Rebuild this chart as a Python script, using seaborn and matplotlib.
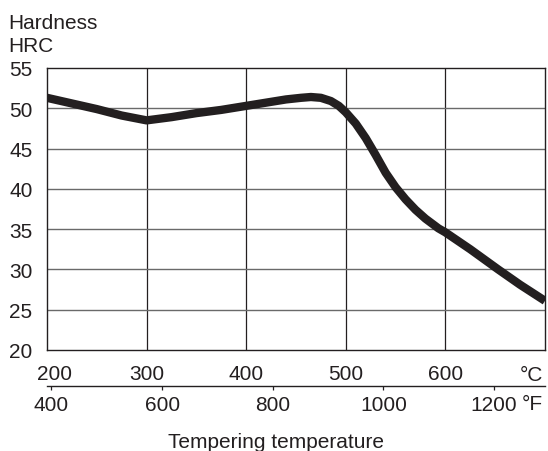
import matplotlib
matplotlib.use("Agg")
import matplotlib.pyplot as plt
import matplotlib.transforms as mtrans
import seaborn as sns
import pandas as pd

# Data
temp_c = [200, 225, 250, 275, 300, 325, 350, 375, 400, 420, 440, 455, 465, 475, 485, 493, 500, 510, 520, 530, 540, 550, 560, 570, 580, 593, 600, 625, 653, 675, 700]
hrc    = [51.3, 50.6, 49.9, 49.1, 48.5, 48.9, 49.4, 49.8, 50.3, 50.7, 51.1, 51.3, 51.4, 51.3, 50.9, 50.3, 49.5, 48.1, 46.3, 44.2, 42.0, 40.2, 38.7, 37.4, 36.3, 35.1, 34.6, 32.5, 30.0, 28.1, 26.1]

c_ticks = [200, 300, 400, 500, 600, 700]
c_labels = ["200", "300", "400", "500", "600", ""]
f_ticks = [400, 600, 800, 1000, 1200]
f_labels = ["400", "600", "800", "1000", "1200"]
y_ticks = [20, 25, 30, 35, 40, 45, 50, 55]

df = pd.DataFrame({"C": temp_c, "HRC": hrc})

sns.set_style("white")
plt.rcParams["font.family"] = ["Liberation Sans", "DejaVu Sans"]
fs = 15
text_col = "#231f20"

W, H = 548, 452
fig = plt.figure(figsize=(W / 100, H / 100), dpi=100)
ax = fig.add_axes([47/W, 1 - 351/H, (545-47)/W, (351-69)/H])

sns.lineplot(data=df, x="C", y="HRC", ax=ax, color="#231f20", linewidth=6,
             solid_capstyle="butt", solid_joinstyle="round", zorder=5)

ax.set_xlim(200, 700)
ax.set_ylim(20, 55)
ax.set_xticks(c_ticks)
ax.set_xticklabels(c_labels)
ax.set_yticks(y_ticks)
ax.set_yticklabels([str(v) for v in y_ticks])
ax.tick_params(axis="both", length=0, labelsize=fs, colors=text_col)
ax.tick_params(axis="x", pad=10)
ax.tick_params(axis="y", pad=10.5)
ax.set_xlabel("")
ax.set_ylabel("")

# nudge the first Celsius label to the right, as in the reference
first = ax.get_xticklabels()[0]
first.set_transform(first.get_transform() + mtrans.ScaledTranslation(8 / 100, 0, fig.dpi_scale_trans))

for v in c_ticks[1:-1]:
    ax.axvline(v, color="#231f20", lw=0.9, zorder=1)
for v in y_ticks[1:-1]:
    ax.axhline(v, color="#6a6a6a", lw=1.0, zorder=1)
for s in ax.spines.values():
    s.set_color("#231f20")
    s.set_linewidth(1.0)

# Fahrenheit secondary axis
sec = ax.secondary_xaxis(-(387 - 351) / (351 - 69),
                         functions=(lambda c: c * 9 / 5 + 32, lambda f: (f - 32) * 5 / 9))
sec.set_xticks(f_ticks)
sec.set_xticklabels(f_labels)
sec.tick_params(axis="x", direction="out", length=3, width=0.9, color="#231f20",
                labelsize=fs, labelcolor=text_col, pad=3.5)
sec.spines["bottom"].set_color("#231f20")
sec.spines["bottom"].set_linewidth(1.0)

def ftext(x, y, s, ha="left"):
    fig.text(x / W, 1 - y / H, s, ha=ha, va="baseline", fontsize=fs, color=text_col)

ftext(543, 381, "°C", ha="right")
ftext(543, 410, "°F", ha="right")
ftext(8, 29, "Hardness")
ftext(8, 52, "HRC")
ftext(168, 448, "Tempering temperature")

fig.savefig("out.png", dpi=100)
